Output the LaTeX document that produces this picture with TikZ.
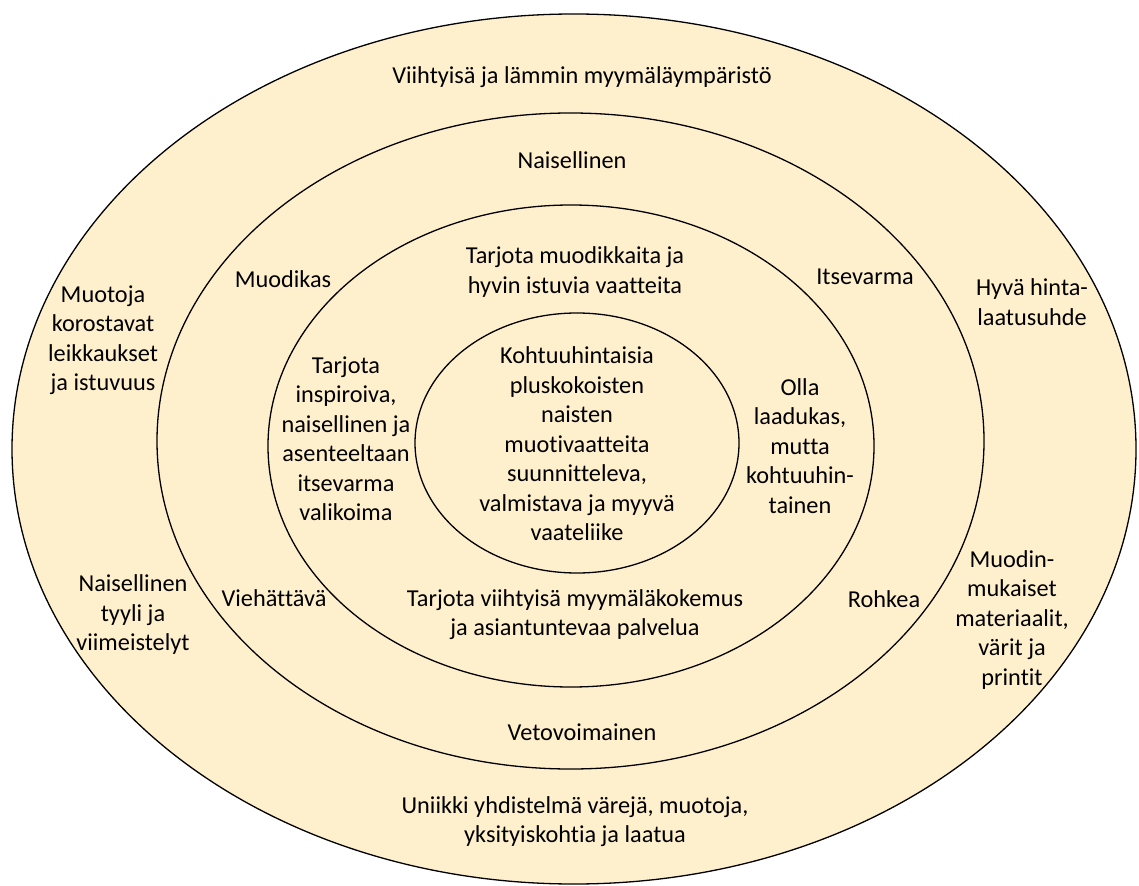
\documentclass[tikz,border=0pt]{standalone}
\usepackage{fontspec}
\setmainfont{Carlito}[Ligatures={NoCommon,NoContextual}]
\usetikzlibrary{shapes.geometric}
\definecolor{ringfill}{RGB}{255,240,205}
\begin{document}
\begin{tikzpicture}[x=1pt,y=-1pt,
  ring/.style={ellipse, draw=black, line width=1.3pt, fill=ringfill, inner sep=0pt},
  lbl/.style={align=center, font=\fontsize{24.3}{29.5}\selectfont, inner sep=0pt}]
\useasboundingbox (0,0) rectangle (1139,885);
\node[ring, minimum width=1124pt, minimum height=870pt] (outer) at (574,449) {};
\node[ring, minimum width=827pt, minimum height=656pt] (second) at (570.5,441) {};
\node[ring, minimum width=606pt, minimum height=482pt] (third) at (571,446) {};
\node[ring, minimum width=324pt, minimum height=260pt] (inner) at (577,443) {};

\node[lbl] (t1) at (582,77) {Viihtyisä ja lämmin myymäläympäristö};
\node[lbl] (t2) at (103,340) {Muotoja\\korostavat\\leikkaukset\\ja istuvuus};
\node[lbl] (t3) at (133,615) {Naisellinen\\tyyli ja\\viimeistelyt};
\node[lbl] (t4) at (1032,302) {Hyvä hinta-\\laatusuhde};
\node[lbl] (t5) at (1012,620) {Muodin-\\mukaiset\\materiaalit,\\värit ja\\printit};
\node[lbl] (t6) at (575,821.5) {Uniikki yhdistelmä värejä, muotoja,\\yksityiskohtia ja laatua};

\node[lbl] (s1) at (572,160) {Naisellinen};
\node[lbl] (s2) at (283,279) {Muodikas};
\node[lbl] (s3) at (865,277) {Itsevarma};
\node[lbl] (s4) at (274,598) {Viehättävä};
\node[lbl] (s5) at (884,599) {Rohkea};
\node[lbl] (s6) at (582,732) {Vetovoimainen};

\node[lbl] (r1) at (575,272) {Tarjota muodikkaita ja\\hyvin istuvia vaatteita};
\node[lbl] (r2) at (346,438.5) {Tarjota\\inspiroiva,\\naisellinen ja\\asenteeltaan\\itsevarma\\valikoima};
\node[lbl] (r3) at (800,446) {Olla\\laadukas,\\mutta\\kohtuuhin-\\tainen};
\node[lbl] (r4) at (575,614.5) {Tarjota viihtyisä myymäläkokemus\\ja asiantuntevaa palvelua};

\node[lbl] (c1) at (577,444) {Kohtuuhintaisia\\pluskokoisten\\naisten\\muotivaatteita\\suunnitteleva,\\valmistava ja myyvä\\vaateliike};
\end{tikzpicture}
\end{document}
